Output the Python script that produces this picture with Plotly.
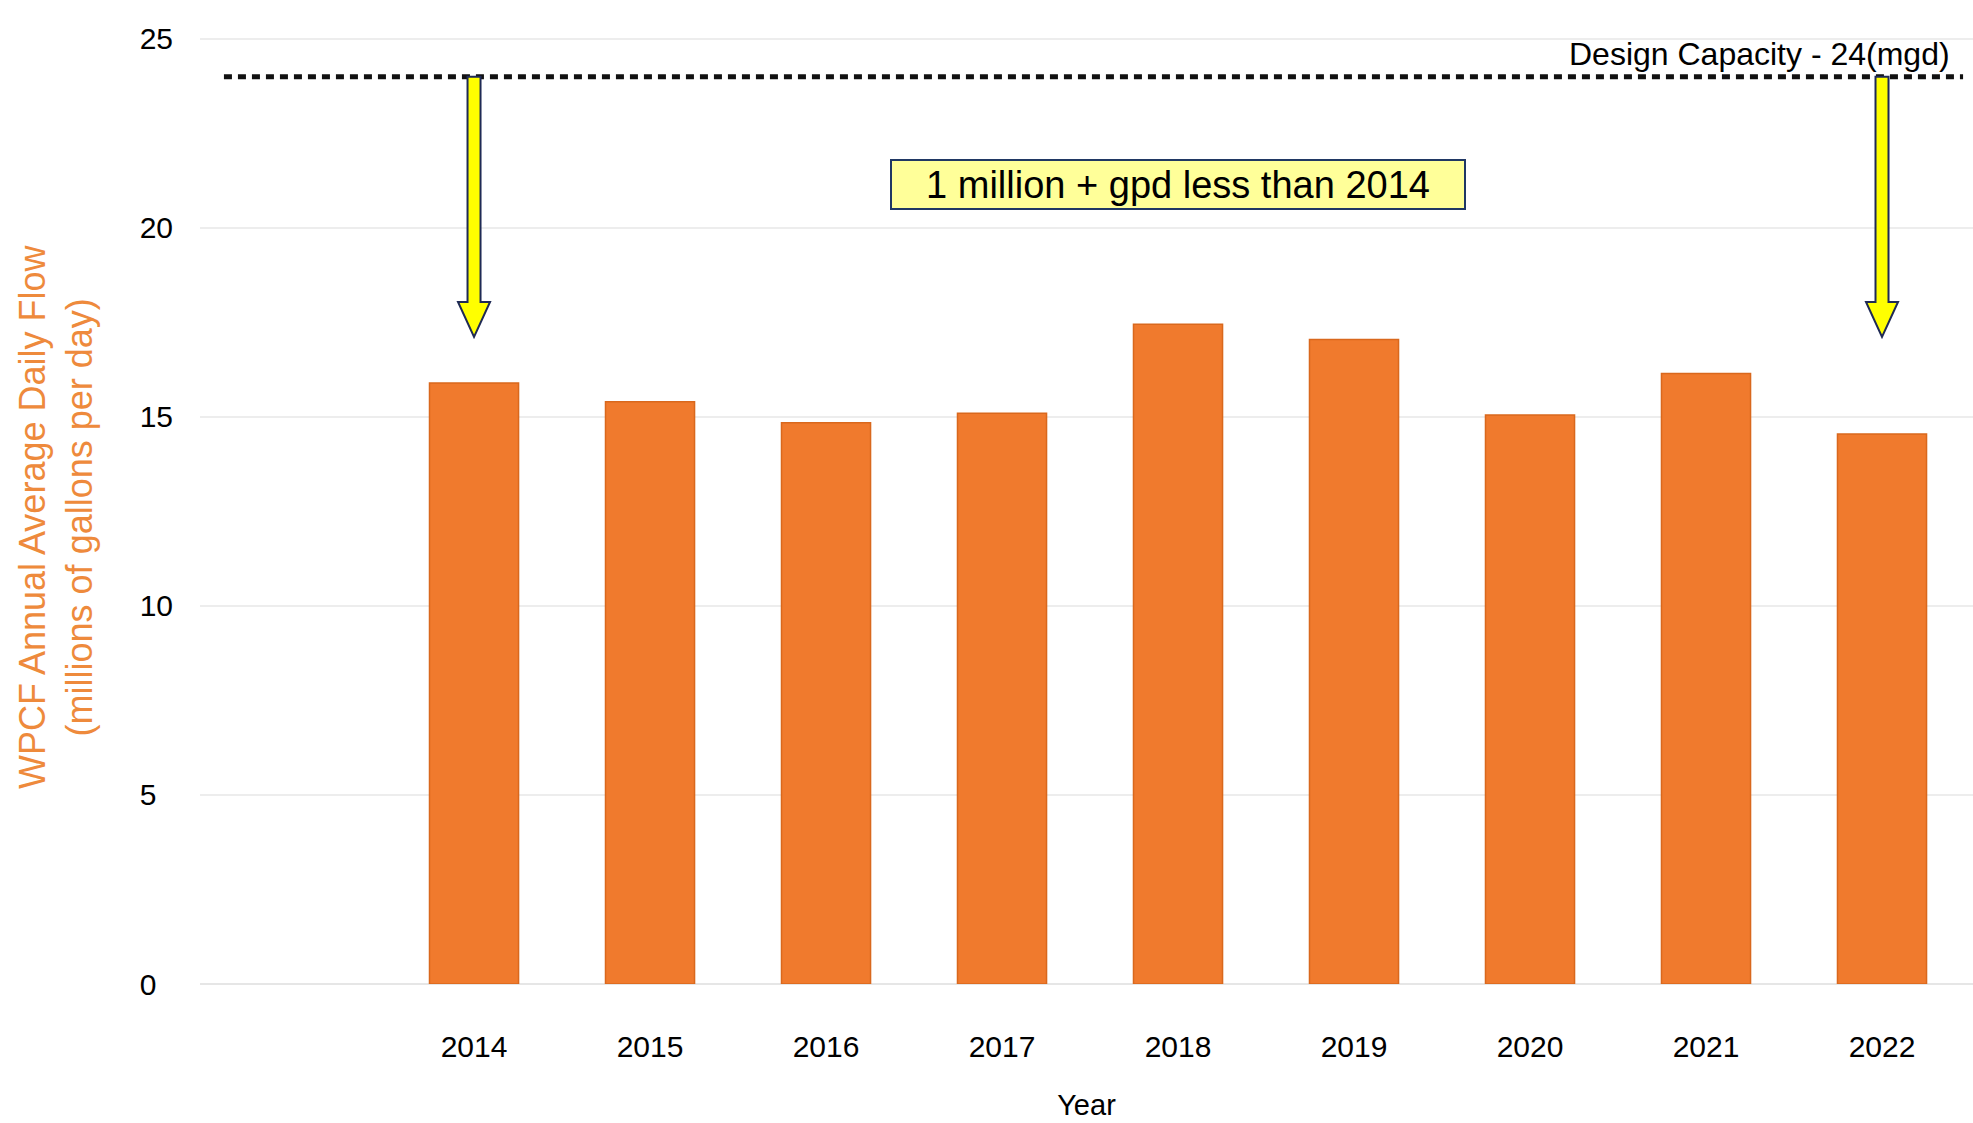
import plotly.graph_objects as go

# Annual average daily flow at the WPCF, millions of gallons per day
years = ["2014", "2015", "2016", "2017", "2018", "2019", "2020", "2021", "2022"]
flow_mgd = [15.9, 15.4, 14.85, 15.1, 17.45, 17.05, 15.05, 16.15, 14.55]

design_capacity = 24
capacity_label = "Design Capacity - 24(mgd)"
note_text = "1 million + gpd less than 2014"

y_ticks = [0, 5, 10, 15, 20, 25]
# figure-space padding keeps single digits flush left like the two-digit labels
y_ticktext = ["0\u2007", "5\u2007", "10", "15", "20", "25"]

# arrow geometry: shaft hangs from the capacity line, head ends above the bars
arrow_years = [0, 8]          # category positions of 2014 and 2022
head_base = 18.04
head_tip = 17.12
shaft_half_px = 6.5
head_half_px = 16

FONT = "Liberation Sans, Arial, sans-serif"
BAR = "#F07A2D"
TEXT_ORANGE = "#EE8A3C"

fig = go.Figure()
fig.add_trace(go.Bar(
    x=list(range(len(years))),
    y=flow_mgd,
    width=0.506,
    marker=dict(color=BAR, line=dict(color="#D9681D", width=1.5)),
    hoverinfo="x+y",
))

shapes = [
    dict(type="line", xref="paper", yref="y",
         x0=0.0135, x1=0.9944, y0=design_capacity, y1=design_capacity,
         line=dict(color="#111111", width=5, dash="8px,6px"), layer="above"),
]
for xa in arrow_years:
    s, h = shaft_half_px, head_half_px
    path = (f"M {-s},{design_capacity} L {s},{design_capacity} "
            f"L {s},{head_base} L {h},{head_base} L 0,{head_tip} "
            f"L {-h},{head_base} L {-s},{head_base} Z")
    shapes.append(dict(type="path", xref="x", yref="y", xsizemode="pixel",
                       xanchor=xa, path=path, fillcolor="#FFFF00",
                       line=dict(color="#1F2A55", width=2), layer="above"))

annotations = [
    dict(text=capacity_label, xref="paper", yref="y", x=0.988, y=design_capacity,
         xanchor="right", yanchor="bottom", yshift=3, showarrow=False,
         font=dict(family=FONT, size=32, color="#000000")),
    dict(text=note_text, xref="x", yref="y", x=4, y=21.15, showarrow=False,
         font=dict(family=FONT, size=38, color="#000000"),
         bgcolor="#FFFF99", bordercolor="#203864", borderwidth=2, borderpad=0,
         width=572, height=47, align="center", valign="middle"),
    dict(text="WPCF Annual Average Daily Flow<br>(millions of gallons per day)",
         xref="paper", yref="paper", x=-0.0815, y=0.475, textangle=-90,
         xanchor="center", yanchor="middle", showarrow=False,
         font=dict(family=FONT, size=36, color=TEXT_ORANGE)),
]

fig.update_layout(
    width=1973, height=1123,
    margin=dict(l=200, r=0, t=0, b=139),
    paper_bgcolor="#FFFFFF", plot_bgcolor="#FFFFFF",
    showlegend=False,
    shapes=shapes,
    annotations=annotations,
    font=dict(family=FONT, color="#000000"),
)
fig.update_xaxes(
    range=[-1.557, 8.517],
    tickmode="array", tickvals=list(range(len(years))), ticktext=years,
    tickfont=dict(family=FONT, size=30, color="#000000"),
    ticks="outside", ticklen=36, tickcolor="rgba(0,0,0,0)",
    showgrid=False, zeroline=False, showline=False,
    title=dict(text="Year", font=dict(family=FONT, size=29, color="#000000"), standoff=32),
)
fig.update_yaxes(
    range=[0, 26.03],
    tickmode="array", tickvals=y_ticks, ticktext=y_ticktext,
    tickfont=dict(family=FONT, size=30, color="#000000"),
    ticks="outside", ticklen=20, tickcolor="rgba(0,0,0,0)",
    showgrid=True, gridcolor="#EDEDED", gridwidth=2,
    zeroline=True, zerolinecolor="#E6E6E6", zerolinewidth=2,
    showline=False,
)

fig.write_html("out.html")
